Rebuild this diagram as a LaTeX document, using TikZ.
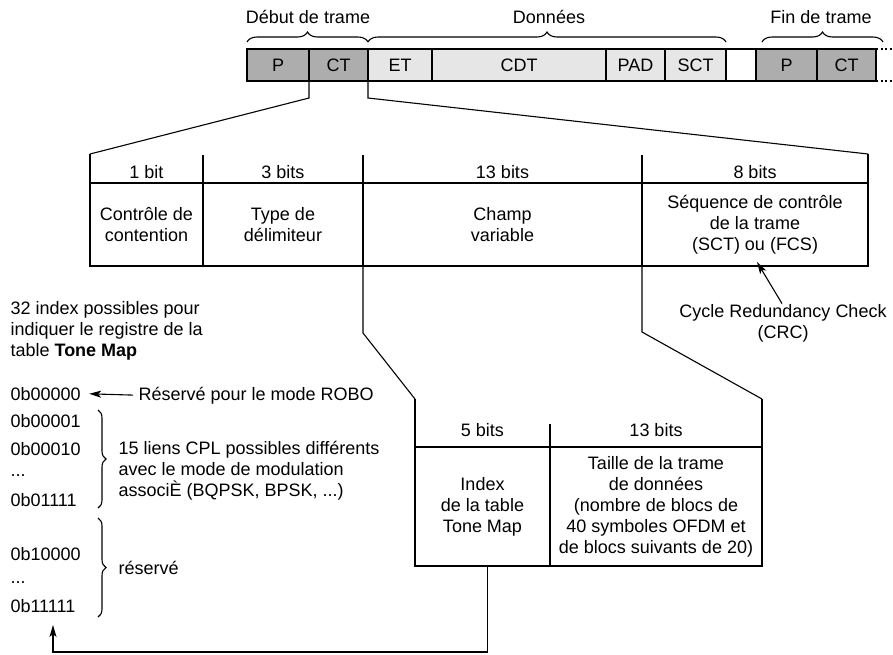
\documentclass[tikz,border=0pt]{standalone}
\usepackage{fontspec}
\setmainfont{Liberation Sans}
\usepackage{xcolor}
\usetikzlibrary{arrows.meta, positioning, decorations.pathreplacing}
\definecolor{headgray}{HTML}{ADADAD}
\definecolor{datagray}{HTML}{E6E6E6}
\tikzset{
    myarrow/.style={-{Stealth[length=12pt, width=7pt, inset=3pt]}},
    txt/.style={font=\fontsize{18}{21}\selectfont, inner sep=0pt, align=center},
    lefttxt/.style={txt, align=left, anchor=base west},
    field/.style={draw, rectangle, txt, minimum height=32pt, outer sep=0pt},
    cell/.style={draw, rectangle, txt, outer sep=0pt},
    mybrace/.style={decorate, decoration={brace, amplitude=#1}},
    mybrace/.default=10pt
}

\begin{document}
\begin{tikzpicture}[x=1pt, y=-1pt, line width=1.1pt]
    \useasboundingbox (0,0) rectangle (893,654);

    % trame
    \node (p1) [field, fill=headgray, minimum width=62pt, anchor=north west] at (247,49) {P};
    \node (ct1) [field, fill=headgray, minimum width=59pt, right=0pt of p1] {CT};
    \node (et) [field, fill=datagray, minimum width=64pt, right=0pt of ct1] {ET};
    \node (cdt) [field, fill=datagray, minimum width=174pt, right=0pt of et] {CDT};
    \node (pad) [field, fill=datagray, minimum width=59pt, right=0pt of cdt] {PAD};
    \node (sct) [field, fill=datagray, minimum width=61pt, right=0pt of pad] {SCT};
    \node (gap) [field, fill=white, minimum width=30pt, right=0pt of sct] {};
    \node (p2) [field, fill=headgray, minimum width=61pt, right=0pt of gap] {P};
    \node (ct2) [field, fill=headgray, minimum width=59pt, right=0pt of p2] {CT};
    \coordinate (endA) at (893,49);
    \coordinate (endB) at (893,81);
    \draw [dash pattern=on 2pt off 2.5pt] (ct2.north east) -- (endA);
    \draw [dash pattern=on 2pt off 2.5pt] (ct2.south east) -- (endB);

    \draw [mybrace] ([yshift=7pt]p1.north west) -- ([yshift=7pt]ct1.north east);
    \draw [mybrace] ([yshift=7pt]et.north west) -- ([yshift=7pt]sct.north east);
    \draw [mybrace] ([xshift=6pt, yshift=7pt]p2.north west) -- ([xshift=7pt, yshift=7pt]ct2.north east);
    \node (debut) [txt] at (308,17) {Début de trame};
    \node (donnees) [txt] at (549,17) {Données};
    \node (fin) [txt] at (821,17) {Fin de trame};

    % champ CT
    \node (cc) [cell, minimum width=113pt, minimum height=83pt, anchor=north west] at (90,183) {Contrôle de\\contention};
    \node (td) [cell, minimum width=160pt, minimum height=83pt, right=0pt of cc] {Type de\\délimiteur};
    \node (cv) [cell, minimum width=279pt, minimum height=83pt, right=0pt of td] {Champ\\variable};
    \node (sq) [cell, minimum width=226pt, minimum height=83pt, right=0pt of cv] {Séquence de contrôle\\de la trame\\(SCT) ou (FCS)};
    \node (b1) [txt, above=4pt of cc] {1 bit};
    \node (b3) [txt, above=4pt of td] {3 bits};
    \node (b13) [txt, above=4pt of cv] {13 bits};
    \node (b8) [txt, above=4pt of sq] {8 bits};
    \coordinate (tl) at ([yshift=29pt]cc.north west);
    \coordinate (tr) at ([yshift=29pt]sq.north east);
    \draw (tl) -- (cc.north west);
    \draw (tr) -- (sq.north east);
    \draw (td.north west) -- ++(0,-28);
    \draw (cv.north west) -- ++(0,-28);
    \draw (sq.north west) -- ++(0,-28);
    \draw (p1.south east) -- ++(0,17) -- (tl);
    \draw (ct1.south east) -- ++(0,17) -- (tr);

    \node (crc) [txt] at (783,323) {Cycle Redundancy Check\\(CRC)};
    \draw [myarrow] ([xshift=-1pt]crc.north) -- ([xshift=2pt, yshift=4pt]sq.south);

    % champ variable
    \node (ix) [cell, minimum width=135pt, minimum height=119pt, anchor=north west] at (415,447) {Index\\de la table\\Tone Map};
    \node (sz) [cell, minimum width=212pt, minimum height=119pt, right=0pt of ix] {Taille de la trame\\de données\\(nombre de blocs de\\40 symboles OFDM et\\de blocs suivants de 20)};
    \node (b5) [txt, above=10pt of ix] {5 bits};
    \node (b13b) [txt, above=10pt of sz] {13 bits};
    \coordinate (ul) at ([yshift=48pt]ix.north west);
    \coordinate (ur) at ([yshift=48pt]sz.north east);
    \draw (ul) -- (ix.north west);
    \draw (ur) -- (sz.north east);
    \draw (sz.north west) -- ++(0,-23);
    \draw (cv.south west) -- ++(0,67) -- (ul);
    \draw (sq.south west) -- ++(0,66) -- (ur);

    % index Tone Map
    \node (idx) [txt, align=left, anchor=west] at (10,331) {32 index possibles pour\\indiquer le registre de la\\table \textbf{Tone Map}};
    \node (c0) [lefttxt] at (10,400) {0b00000};
    \node (robo) [lefttxt] at (138,400) {Réservé pour le mode ROBO};
    \draw [myarrow, shorten <=5pt, shorten >=8pt] (robo.west) -- (c0.east);
    \node (c1) [lefttxt] at (10,427) {0b00001};
    \node (c2) [lefttxt] at (10,455) {0b00010};
    \node (c3) [lefttxt] at (10,476) {...};
    \node (c15) [lefttxt] at (10,506) {0b01111};
    \draw [mybrace=8pt] (98,410) -- (98,508);
    \node (liens) [txt, align=left, anchor=north west] at (118,441) {15 liens CPL possibles différents\\avec le mode de modulation\\associÈ (BQPSK, BPSK, ...)};
    \node (c16) [lefttxt] at (10,560) {0b10000};
    \node (c17) [lefttxt] at (10,583) {...};
    \node (c31) [lefttxt] at (10,612) {0b11111};
    \draw [mybrace=8pt] (98,518) -- (98,617);
    \node (res) [lefttxt] at (118,574) {réservé};

    \coordinate (turn) at (53,652);
    \coordinate (tipc) at (53,625);
    \draw [myarrow] ([xshift=5pt]ix.south) |- (turn) -- (tipc);
\end{tikzpicture}
\end{document}
